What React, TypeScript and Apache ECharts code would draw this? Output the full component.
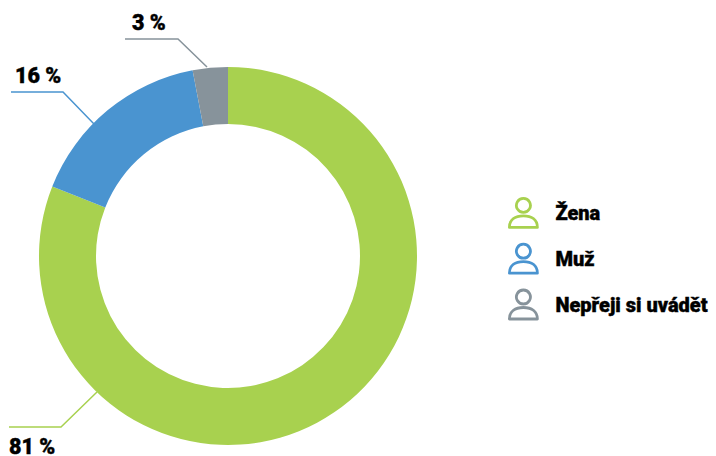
import React, { useEffect, useRef } from "react";
import * as echarts from "echarts";

const categories = ["Žena", "Muž", "Nepřeji si uvádět"];
const values = [81, 16, 3];
const colors = ["#a8d14f", "#4a94d0", "#87939b"];

const FONT = "Roboto";
const personIcon =
  "path://M14 0a7 7 0 1 0 0.01 0Z M0 29C0 21 6 17.5 14 17.5C22 17.5 28 21 28 29Z";

const labelAnchors = [
  { x: 9, y: 446, line: [[9, 427], [61, 427], [97, 392]] },
  { x: 15, y: 75, line: [[11, 92], [63, 92], [94, 124]] },
  { x: 132, y: 22, line: [[125, 39], [178, 39], [207, 67]] },
];

export default function App() {
  const ref = useRef<HTMLDivElement>(null);
  useEffect(() => {
    document.body.style.margin = "0";
    const chart = echarts.init(ref.current!, undefined, { renderer: "svg" });
    chart.setOption({
      animation: false,
      backgroundColor: "#ffffff",
      color: colors,
      legend: {
        orient: "vertical",
        left: 508,
        top: 197,
        itemWidth: 28,
        itemHeight: 29,
        itemGap: 14,
        padding: 0,
        icon: personIcon,
        data: categories.map((name, i) => ({
          name,
          itemStyle: { color: "transparent", borderColor: colors[i], borderWidth: 2.8 },
        })),
        selectedMode: false,
        textStyle: {
          fontFamily: FONT,
          fontWeight: 900,
          fontSize: 20,
          lineHeight: 20,
          color: "#000",
          textBorderColor: "#000",
          textBorderWidth: 0.4,
          padding: [0, 0, 2, 13],
        },
      },
      series: [
        {
          type: "pie",
          center: [228, 256],
          radius: [132, 189],
          startAngle: 90,
          clockwise: true,
          silent: true,
          data: categories.map((name, i) => ({ name, value: values[i] })),
          label: {
            show: true,
            position: "outside",
            formatter: (p: any) => `${p.value} %`,
            fontFamily: FONT,
            fontWeight: 900,
            fontSize: 21.5,
            lineHeight: 18,
            color: "#000",
            textBorderColor: "#000",
            textBorderWidth: 0.4,
          },
          labelLine: { show: true, lineStyle: { width: 1.5 } },
          labelLayout: (p: any) => {
            const a = labelAnchors[p.dataIndex];
            return { x: a.x, y: a.y, align: "left", verticalAlign: "middle", labelLinePoints: a.line };
          },
        },
      ],
    });
    return () => chart.dispose();
  }, []);
  return <div ref={ref} style={{ width: 716, height: 456 }} />;
}
